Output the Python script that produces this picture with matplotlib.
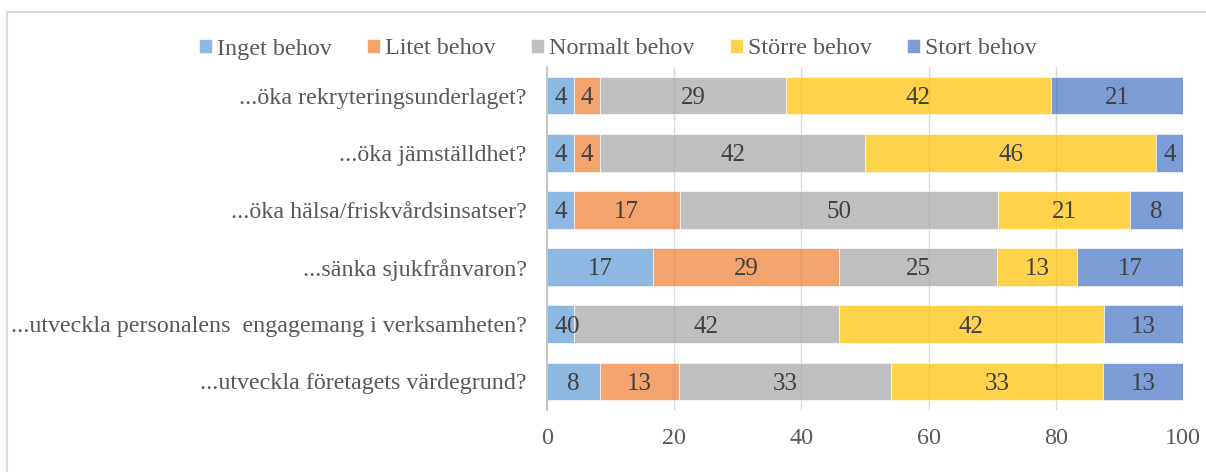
import numpy as np
from matplotlib import pyplot as plt

# svarskategorier och andelar (%) per fråga
kategorier = ["...öka rekryteringsunderlaget?",
              "...öka jämställdhet?",
              "...öka hälsa/friskvårdsinsatser?",
              "...sänka sjukfrånvaron?",
              "...utveckla personalens  engagemang i verksamheten?",
              "...utveckla företagets värdegrund?"]
serier = ["Inget behov", "Litet behov", "Normalt behov", "Större behov", "Stort behov"]

inget = [4.2, 4.2, 4.2, 16.7, 4.2, 8.3]
litet = [4.2, 4.2, 16.7, 29.2, 0.0, 12.5]
normalt = [29.2, 41.7, 50.0, 25.0, 41.7, 33.3]
storre = [41.7, 45.8, 20.8, 12.5, 41.7, 33.3]
stort = [20.8, 4.2, 8.3, 16.7, 12.5, 12.5]

farger = ["#5B9BD5", "#ED7D31", "#A5A5A5", "#FFC000", "#4472C4"]

plt.rcParams['font.family'] = ['Liberation Serif', 'DejaVu Serif']

data = np.array([inget, litet, normalt, storre, stort])
data = data / data.sum(axis=0) * 100  # 100 % staplat

fig = plt.figure(figsize=(12.06, 4.72), dpi=100)
ax = fig.add_axes([547/1206., 1 - 410/472., 636/1206., 343/472.])

y = np.arange(len(kategorier))
vanster = np.zeros(len(kategorier))
for i, namn in enumerate(serier):
    ax.barh(y, data[i], left=vanster, height=0.66, color=farger[i], alpha=0.7,
            edgecolor="white", linewidth=0.6, label=namn, zorder=2)
    rader = [inget, litet, normalt, storre, stort][i]
    for j in range(len(kategorier)):
        ax.text(vanster[j] + data[i][j] / 2.0, y[j] + 0.04, str(int(rader[j] + 0.5)),
                ha="center", va="center", fontsize=18, color="#404040", zorder=3)
    vanster = vanster + data[i]

ax.set_xlim(0, 100)
ax.set_ylim(len(kategorier) - 0.5, -0.5)
ax.set_yticks(y)
ax.set_yticklabels(kategorier, fontsize=17.3, color="#595959")
ax.set_xticks([0, 20, 40, 60, 80, 100])
ax.tick_params(axis="x", labelsize=17.4, labelcolor="#595959", length=0, pad=13)
ax.tick_params(axis="y", length=0, pad=14.5)
ax.grid(axis="x", color="#D9D9D9", linewidth=1, zorder=1)
ax.set_axisbelow(True)
for s in ["top", "right", "bottom"]:
    ax.spines[s].set_visible(False)
ax.spines["left"].set_color("#BFBFBF")
ax.spines["left"].set_linewidth(1.2)
ax.spines["left"].set_zorder(4)

fig.legend(loc="center", bbox_to_anchor=(618/1206., 1 - 49/472.), ncol=5, frameon=False,
           fontsize=17.4, handlelength=0.55, handleheight=0.55, handletextpad=0.2,
           columnspacing=1.45, labelcolor="#595959")

# ram runt diagrammet
ram = plt.Rectangle((7/1206., -0.05), 1.2, 1 - 12/472. + 0.05, transform=fig.transFigure,
                    fill=False, edgecolor="#D9D9D9", linewidth=1.5)
fig.patches.append(ram)

fig.savefig("out.png", dpi=100)
